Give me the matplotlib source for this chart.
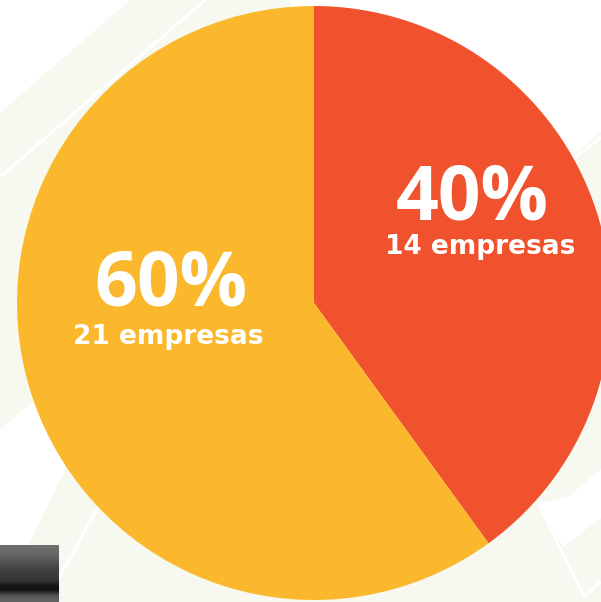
import numpy as np
import matplotlib
matplotlib.use("Agg")
import matplotlib.pyplot as plt
from matplotlib.patches import Polygon

# data
labels = ["40%", "60%"]
counts = ["14 empresas", "21 empresas"]
values = [14, 21]
colors = ["#f0522e", "#fbb82c"]

W, H = 601, 602
fig = plt.figure(figsize=(W / 100, H / 100), dpi=100)
fig.patch.set_facecolor("#f7f8ef")

# background decoration (pixel coords)
bg = fig.add_axes([0, 0, 1, 1])
bg.axis("off")
white_shapes = [
    [(0, 0), (130, 0), (0, 113)],
    [(290, 0), (601, 0), (601, 132), (330, 360)],
    [(0, 430), (80, 360), (65, 470), (25, 552), (0, 552)],
    [(538, 503), (567, 497), (601, 469), (601, 518), (563, 547)],
]
for pts in white_shapes:
    bg.add_patch(Polygon(pts, closed=True, fc="white", ec="none"))
thin_lines = [
    [(0, 177), (205, 0)],
    [(110, 485), (46, 602)],
    [(538, 503), (584, 596), (601, 582)],
    [(601, 137), (560, 170)],
]
for pts in thin_lines:
    xs, ys = zip(*pts)
    bg.plot(xs, ys, color="white", lw=2.2, solid_capstyle="butt")

# dark box bottom-left
grad = np.array([0.43, 0.41, 0.38, 0.33, 0.28, 0.25, 0.23, 0.21, 0.09, 0.07, 0.30, 0.38])
bg.imshow(grad[:, None], cmap="gray", vmin=0, vmax=1, extent=(0, 59, 602, 545),
          aspect="auto", interpolation="bilinear", zorder=3)
bg.set_xlim(0, W)
bg.set_ylim(H, 0)

# pie: center (314, 303), radius 297 px
ax = fig.add_axes([17 / W, 2 / H, 594 / W, 594 / H])
ax.patch.set_alpha(0)
ax.pie(values, colors=colors, startangle=90, counterclock=False,
       wedgeprops=dict(linewidth=0))
ax.set_xlim(-1, 1)
ax.set_ylim(-1, 1)
ax.set_aspect("equal")
ax.axis("off")

big = dict(family=["Open Sans", "DejaVu Sans"], weight="bold", size=54,
           color="white", ha="center", va="baseline")
small = dict(family="DejaVu Sans", weight="bold", size=19,
             color="white", ha="center", va="baseline")
pos_big = [(0.532, 0.280), (-0.481, -0.010)]
pos_small = [(0.559, 0.165), (-0.492, -0.138)]
for lab, cnt, pb, ps in zip(labels, counts, pos_big, pos_small):
    ax.text(pb[0], pb[1], lab, **big)
    ax.text(ps[0], ps[1], cnt, **small)

fig.savefig("out.png", dpi=100)
